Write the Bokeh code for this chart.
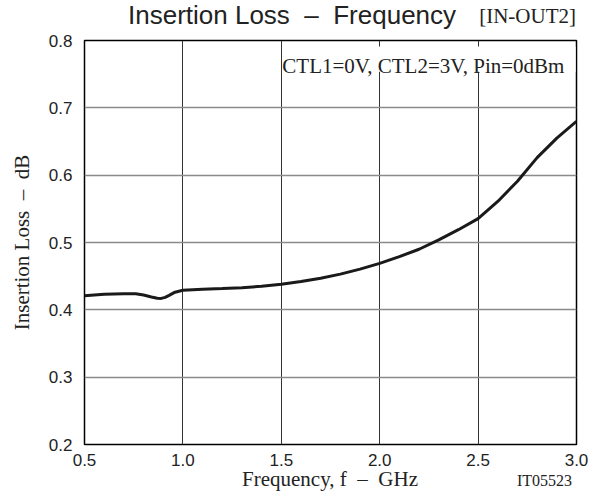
from bokeh.plotting import figure
from bokeh.models import Range1d, Label, FixedTicker, CustomJSTickFormatter, Div
from bokeh.layouts import column
from bokeh.embed import file_html
from bokeh.resources import INLINE

freq_ghz = [0.50, 0.60, 0.70, 0.76, 0.80, 0.84, 0.87, 0.89, 0.91, 0.93, 0.96, 1.00,
            1.10, 1.20, 1.30, 1.40, 1.50, 1.60, 1.70, 1.80, 1.90, 2.00,
            2.10, 2.20, 2.30, 2.40, 2.50, 2.60, 2.70, 2.80, 2.90, 3.00]
loss_db = [0.421, 0.423, 0.424, 0.4238, 0.422, 0.419, 0.4172, 0.417, 0.4185, 0.4215, 0.4262, 0.4290,
           0.4305, 0.4315, 0.4328, 0.4350, 0.4380, 0.4420, 0.4470, 0.4530, 0.4605, 0.4690,
           0.4790, 0.4900, 0.5040, 0.5190, 0.5355, 0.5610, 0.5910, 0.6260, 0.6550, 0.6800]

x_ticks = [0.5, 1.0, 1.5, 2.0, 2.5, 3.0]
y_ticks = [0.2, 0.3, 0.4, 0.5, 0.6, 0.7, 0.8]

NB = "\u00a0"
title_text = "Insertion Loss" + NB * 2 + "\u2013" + NB * 2 + "Frequency"
title_tag = "[IN-OUT2]"
cond_text = "CTL1=0V, CTL2=3V, Pin=0dBm"
x_label = "Frequency, f" + NB * 2 + "\u2013" + NB * 2 + "GHz"
y_label = "Insertion Loss" + NB * 2 + "\u2013" + NB * 2 + "dB"
code_text = "IT05523"

W = 591
top_html = (
    f'<div style="position:relative;width:{W}px;height:29px;background:white;">'
    f'<span style="position:absolute;left:128px;top:2px;font-family:\'Liberation Sans\';'
    f'font-size:26px;line-height:1;color:#222222;white-space:pre;">{title_text}</span>'
    f'<span style="position:absolute;right:15px;top:6px;font-family:\'Liberation Serif\';'
    f'font-size:21px;line-height:1;color:#222222;white-space:pre;">{title_tag}</span>'
    '</div>'
)
bottom_html = (
    f'<div style="position:relative;width:{W}px;height:31px;background:white;">'
    f'<span style="position:absolute;left:330px;top:1px;transform:translateX(-50%);'
    f'font-family:\'Liberation Serif\';font-size:21px;line-height:1;color:#222222;'
    f'white-space:pre;">{x_label}</span>'
    f'<span style="position:absolute;right:19px;top:5px;font-family:\'Liberation Serif\';'
    f'font-size:16px;line-height:1;color:#222222;white-space:pre;">{code_text}</span>'
    '</div>'
)
top_div = Div(text=top_html, width=W, height=29, margin=(0, 0, 0, 0))
bottom_div = Div(text=bottom_html, width=W, height=31, margin=(0, 0, 0, 0))

p = figure(width=W, height=439, output_backend="svg", toolbar_location=None,
           x_range=Range1d(0.5, 3.0), y_range=Range1d(0.2, 0.8),
           min_border_left=84, min_border_right=15, min_border_top=11, min_border_bottom=23,
           margin=(0, 0, 0, 0))
p.outline_line_color = "black"
p.outline_line_width = 1.5
p.background_fill_color = "white"
p.border_fill_color = None

p.xaxis.ticker = FixedTicker(ticks=x_ticks)
p.yaxis.ticker = FixedTicker(ticks=y_ticks)
p.xaxis.formatter = CustomJSTickFormatter(code="return tick.toFixed(1);")
p.yaxis.formatter = CustomJSTickFormatter(code="return tick.toFixed(1);")
for ax in (p.xaxis, p.yaxis):
    ax.axis_line_color = None
    ax.major_tick_line_color = None
    ax.minor_tick_line_color = None
    ax.major_label_text_font = "Liberation Sans"
    ax.major_label_text_font_size = "17px"
    ax.major_label_text_color = "#222222"
    ax.axis_label_text_font = "Liberation Serif"
    ax.axis_label_text_font_size = "21px"
    ax.axis_label_text_font_style = "normal"
    ax.axis_label_text_color = "#222222"
p.xaxis.major_label_standoff = 3
p.yaxis.major_label_standoff = 6
p.yaxis.axis_label = y_label
p.yaxis.axis_label_standoff = 12

p.xgrid.grid_line_color = "#333333"
p.xgrid.grid_line_width = 1
p.ygrid.grid_line_color = "#8a8a8a"
p.ygrid.grid_line_width = 1.5

p.quad(left=[1.505], right=[2.995], bottom=[0.7535], top=[0.791],
       fill_color="white", line_color=None)

p.line(freq_ghz, loss_db, line_color="#1a1a1a", line_width=3)

p.add_layout(Label(x=1.5, y=0.8, x_offset=1, y_offset=-25, text=cond_text,
                   text_font="Liberation Serif", text_font_size="21px",
                   text_color="#222222", text_baseline="alphabetic"))

layout = column(top_div, p, bottom_div, spacing=0)
open("out.html", "w").write(file_html(layout, INLINE))
